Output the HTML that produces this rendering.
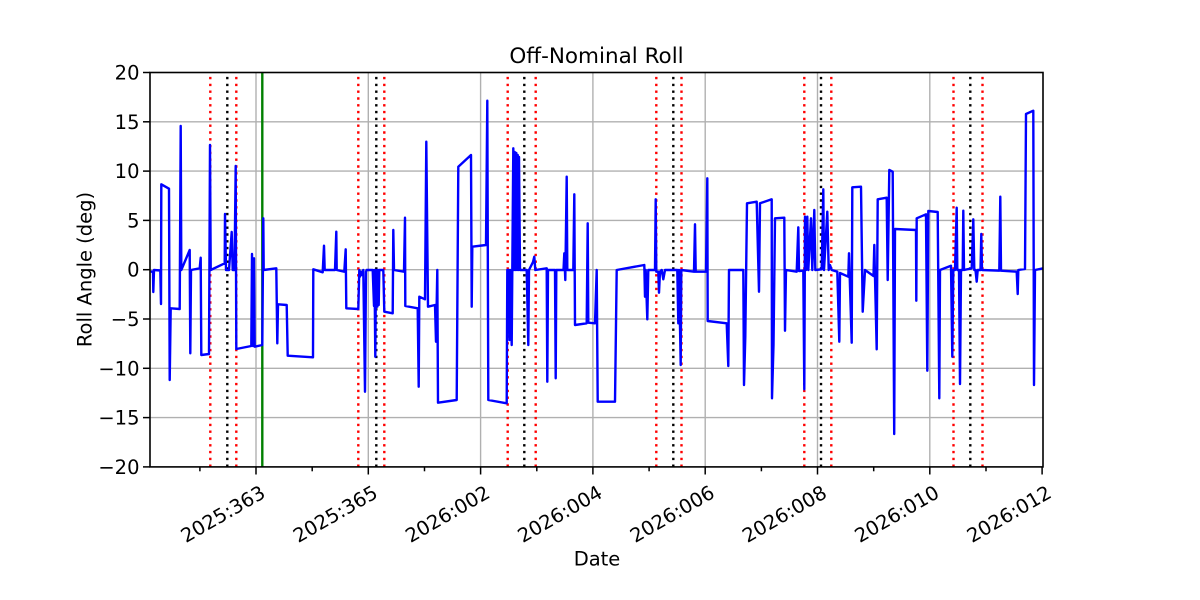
<!DOCTYPE html>
<html>
<head>
<meta charset="utf-8">
<style>
html,body{margin:0;padding:0;background:#fff;}
svg{display:block;}
text{font-family:"DejaVu Sans","Liberation Sans",sans-serif;fill:#000;}
</style>
</head>
<body>
<svg width="1200" height="600" viewBox="0 0 1200 600" xmlns="http://www.w3.org/2000/svg">
<rect x="0" y="0" width="1200" height="600" fill="#fff"/>
<defs>
<clipPath id="plot"><rect x="150" y="72.5" width="893" height="394.4"/></clipPath>
</defs>
<!-- grid -->
<g stroke="#b0b0b0" stroke-width="1.4" fill="none">
<line x1="150" x2="1043" y1="121.8" y2="121.8"/>
<line x1="150" x2="1043" y1="171.1" y2="171.1"/>
<line x1="150" x2="1043" y1="220.4" y2="220.4"/>
<line x1="150" x2="1043" y1="269.7" y2="269.7"/>
<line x1="150" x2="1043" y1="319" y2="319"/>
<line x1="150" x2="1043" y1="368.3" y2="368.3"/>
<line x1="150" x2="1043" y1="417.6" y2="417.6"/>
<line x1="256" x2="256" y1="72.5" y2="466.9"/>
<line x1="368.3" x2="368.3" y1="72.5" y2="466.9"/>
<line x1="480.6" x2="480.6" y1="72.5" y2="466.9"/>
<line x1="592.9" x2="592.9" y1="72.5" y2="466.9"/>
<line x1="705.2" x2="705.2" y1="72.5" y2="466.9"/>
<line x1="817.5" x2="817.5" y1="72.5" y2="466.9"/>
<line x1="929.8" x2="929.8" y1="72.5" y2="466.9"/>
</g>
<!-- vertical event lines -->
<g stroke-width="2.4" fill="none" stroke-dasharray="2.4,4.4">
<g stroke="#ff0000">
<line x1="210.3" x2="210.3" y1="466.9" y2="72.5"/>
<line x1="236.3" x2="236.3" y1="466.9" y2="72.5"/>
<line x1="358.3" x2="358.3" y1="466.9" y2="72.5"/>
<line x1="384.3" x2="384.3" y1="466.9" y2="72.5"/>
<line x1="507.7" x2="507.7" y1="466.9" y2="72.5"/>
<line x1="535.7" x2="535.7" y1="466.9" y2="72.5"/>
<line x1="656.3" x2="656.3" y1="466.9" y2="72.5"/>
<line x1="681.5" x2="681.5" y1="466.9" y2="72.5"/>
<line x1="804.3" x2="804.3" y1="466.9" y2="72.5"/>
<line x1="831.3" x2="831.3" y1="466.9" y2="72.5"/>
<line x1="953.5" x2="953.5" y1="466.9" y2="72.5"/>
<line x1="982.5" x2="982.5" y1="466.9" y2="72.5"/>
</g>
<g stroke="#000000">
<line x1="227.3" x2="227.3" y1="466.9" y2="72.5"/>
<line x1="376.3" x2="376.3" y1="466.9" y2="72.5"/>
<line x1="524.3" x2="524.3" y1="466.9" y2="72.5"/>
<line x1="673.3" x2="673.3" y1="466.9" y2="72.5"/>
<line x1="821" x2="821" y1="466.9" y2="72.5"/>
<line x1="970.3" x2="970.3" y1="466.9" y2="72.5"/>
</g>
</g>
<line x1="262.3" x2="262.3" y1="72.5" y2="466.9" stroke="#008000" stroke-width="2.4"/>
<!-- data -->
<g clip-path="url(#plot)">
<polyline fill="none" stroke="#0000ff" stroke-width="2.4" stroke-linejoin="round" stroke-linecap="butt" points="
150.7,271.7 153,271.5 153.3,292 154,270 160.3,270.5 161,304 161.3,184.3 169,188.7 169.7,380 170.7,308.3 179.7,309 180.7,126 181.3,270 189.7,250 190.3,353.3 191,270 199.7,268.3 200.7,257.7 201.3,355 209,354 210,145 210.7,270 224.7,263.3 225,214 226,270 229,270 231.7,232 232.7,270 234.5,270 235.7,166 236.3,349 251.3,346 252,254 253,346 254,258.3 254.7,346.7 262.3,345 263.3,218.3 263.7,270 276.3,268.3 277.3,343.3 278,304.3 286.7,305 287.7,355.7 313,357.3
313.3,269.3 322.7,272.3 324,245.7 324.7,270 335,270 336.3,231.7 336.7,270 344.3,271.7 345.7,249.3 346.3,308.3 358.3,309 359.3,270 360,276.7 361,271.7 362,275 363.3,270 365,391.7 366,271.7 366.7,270 372.7,270 374,306 374.5,270 375.3,356.7 376,270 377.3,306.7 378,270 378.7,305 379.3,270 383.3,270 384.3,311.7 392.7,313.3 393.3,230 394,270 404,271.7 405,217.7 405.3,306 417.7,308.3 418.7,386.7 419.3,296.7 425,299.3 426.3,141.7 428,306.7 435,305 436,341.7 437.3,270 438,402.7 456.7,400 458.3,166.7
471,155 471.7,306.7 472.3,246.7 486,245 487.3,100.7 488.3,400 506.7,403.3 507.3,270 508,323.3 508.7,270 509.5,340 510,270 511.7,345 512.3,270 513.3,148.3 514,270 514.7,152 515.3,270 516.3,153 517,270 517.7,155 518.3,270 519,157 520,270 526.7,270 528.3,345 529,270 533,262 534.3,256.7 535.3,270 546.7,268.3 547.3,381.7 548,270 555,270 555.7,378.3 556.3,270 563.5,270 564.3,253.3 565.3,280 566.7,176.7 567.3,270 573.3,270 574.3,194.3 575,325 586.7,323.3 587.7,223.3 588.3,322.7 595,323.3 596.7,270 597.7,401.7 615,401.7
616.7,270 644.3,265 645,296.7 645.7,270 647.3,319.3 648.3,270 655,270 655.7,199.3 656.3,271.7 658.3,271.7 659,292.7 660,271.7 661.7,270 663.3,279.3 665,270 677.3,270 678.3,323.3 679,270 680.7,365 681.3,270 694,271.7 695,224.3 695.7,271.7 706,271.7 707.3,178.3 707.7,321 726.7,323.3 728.3,366 729,270 743.3,270 744,385 745.3,336.7 747,203.3 756.7,201.7 759,291.7 760,203.3 771.7,199.3 772,398.3 773.5,345 775,218.3 784.3,217.7 785,330.7 786,270 796.7,271.7 798.3,227.3 799,271 803.3,270.7 804.3,389.3 805,216.7 806,270 807.3,216.7 808.3,270 811,218.3 812.3,270 814.3,210 815.3,270 821.7,269.3 823.3,189.3 824,270 827.3,211.7 828.7,270 830,265 831.7,270 837.3,271.7 839.3,341.7 840,273 848.3,276.7 849,253.3 851.7,342.7 852.3,187.3 861,186.7 862.7,311.7 865,270 873.5,276 874.3,245 875,277 876.7,349.3 877.7,199.3 886.7,197.7 887.7,280 889.3,170 892.7,171.7 894.2,434 895,229 916,230 916.3,300.7 916.7,218.3 926,214.3 927.3,370.7 928.3,211 937.7,212 939.3,398.3 940,270 951,265.7 952.3,356.7 953.3,270 955,270 956.7,207.7 957.3,270 959,270 960,384 961,270 962.7,270 963.3,210.7 964,270 971.7,268.3 973.3,219.3 974.3,270 975.5,270 976.7,281.7 977.7,270 980.5,270 981.3,234 982,270 999.3,270.7 1000.3,196.7 1001,270.7 1016.7,271.7 1017.7,294 1018.3,270 1025,269 1026,114 1033.3,110.7 1034,385 1035,270 1045,268"/>
</g>
<!-- spines -->
<rect x="150" y="72.5" width="893" height="394.4" fill="none" stroke="#000" stroke-width="1.6"/>
<!-- ticks -->
<g stroke="#000" stroke-width="1.5">
<line x1="143" x2="150" y1="72.5" y2="72.5"/>
<line x1="143" x2="150" y1="121.8" y2="121.8"/>
<line x1="143" x2="150" y1="171.1" y2="171.1"/>
<line x1="143" x2="150" y1="220.4" y2="220.4"/>
<line x1="143" x2="150" y1="269.7" y2="269.7"/>
<line x1="143" x2="150" y1="319" y2="319"/>
<line x1="143" x2="150" y1="368.3" y2="368.3"/>
<line x1="143" x2="150" y1="417.6" y2="417.6"/>
<line x1="143" x2="150" y1="466.9" y2="466.9"/>
<line x1="256" x2="256" y1="466.9" y2="474.5"/>
<line x1="368.3" x2="368.3" y1="466.9" y2="474.5"/>
<line x1="480.6" x2="480.6" y1="466.9" y2="474.5"/>
<line x1="592.9" x2="592.9" y1="466.9" y2="474.5"/>
<line x1="705.2" x2="705.2" y1="466.9" y2="474.5"/>
<line x1="817.5" x2="817.5" y1="466.9" y2="474.5"/>
<line x1="929.8" x2="929.8" y1="466.9" y2="474.5"/>
<line x1="1042.1" x2="1042.1" y1="466.9" y2="474.5"/>
<line x1="199.9" x2="199.9" y1="466.9" y2="471.3"/>
<line x1="312.2" x2="312.2" y1="466.9" y2="471.3"/>
<line x1="424.5" x2="424.5" y1="466.9" y2="471.3"/>
<line x1="536.8" x2="536.8" y1="466.9" y2="471.3"/>
<line x1="649.1" x2="649.1" y1="466.9" y2="471.3"/>
<line x1="761.4" x2="761.4" y1="466.9" y2="471.3"/>
<line x1="873.7" x2="873.7" y1="466.9" y2="471.3"/>
<line x1="986" x2="986" y1="466.9" y2="471.3"/>
</g>
<!-- y tick labels -->
<g font-size="19.5" text-anchor="end">
<text x="139.5" y="79.5">20</text>
<text x="139.5" y="128.8">15</text>
<text x="139.5" y="178.1">10</text>
<text x="139.5" y="227.4">5</text>
<text x="139.5" y="276.7">0</text>
<text x="139.5" y="326">−5</text>
<text x="139.5" y="375.3">−10</text>
<text x="139.5" y="424.6">−15</text>
<text x="139.5" y="473.9">−20</text>
</g>
<!-- x tick labels -->
<g font-size="19.5" text-anchor="end">
<text transform="translate(266.8,496.5) rotate(-30)">2025:363</text>
<text transform="translate(379.1,496.5) rotate(-30)">2025:365</text>
<text transform="translate(491.4,496.5) rotate(-30)">2026:002</text>
<text transform="translate(603.7,496.5) rotate(-30)">2026:004</text>
<text transform="translate(716,496.5) rotate(-30)">2026:006</text>
<text transform="translate(828.3,496.5) rotate(-30)">2026:008</text>
<text transform="translate(940.6,496.5) rotate(-30)">2026:010</text>
<text transform="translate(1052.9,496.5) rotate(-30)">2026:012</text>
</g>
<!-- labels -->
<text x="596.5" y="63" font-size="21.5" text-anchor="middle">Off-Nominal Roll</text>
<text x="597" y="565.5" font-size="19.5" text-anchor="middle">Date</text>
<text transform="translate(91.5,269.5) rotate(-90)" font-size="19.5" text-anchor="middle">Roll Angle (deg)</text>
</svg>
</body>
</html>
